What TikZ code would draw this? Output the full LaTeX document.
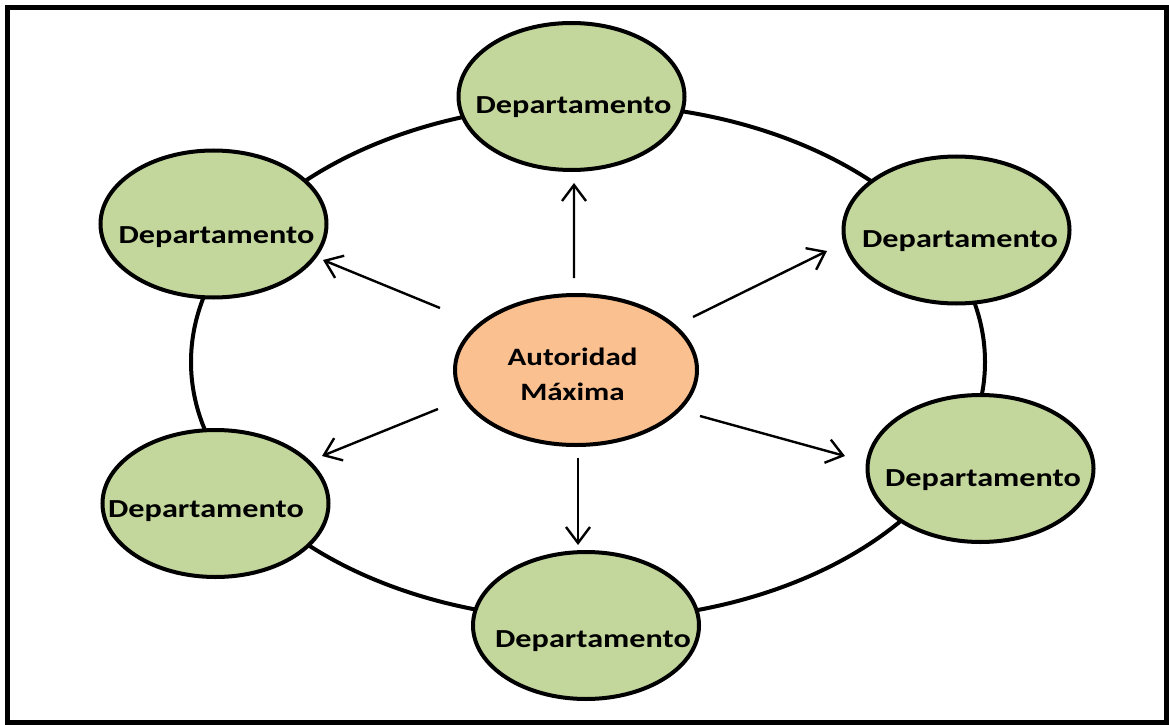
\documentclass[tikz,border=0pt]{standalone}
\usepackage{fontspec}
\setmainfont{Carlito}
\usetikzlibrary{shapes.geometric,arrows.meta}
\definecolor{deptgreen}{HTML}{C3D69B}
\definecolor{bossorange}{HTML}{FAC090}
\newfontfamily\labelfont[FakeStretch=1.24]{Carlito}
\tikzset{
  dept/.style={ellipse, draw=black, line width=4bp, fill=deptgreen,
    minimum width=226bp, minimum height=147bp, inner sep=0pt},
  boss/.style={ellipse, draw=black, line width=4bp, fill=bossorange,
    minimum width=242bp, minimum height=150bp, inner sep=0pt},
  dtext/.style={anchor=base, inner sep=0pt,
    font=\labelfont\bfseries\fontsize{26bp}{30bp}\selectfont},
  btext/.style={anchor=base, inner sep=0pt,
    font=\labelfont\bfseries\fontsize{25bp}{30bp}\selectfont},
  ring/.style={draw=black, line width=4bp},
  arr/.style={draw=black, line width=2.4bp,
    -{Straight Barb[length=16bp,width=24bp,line width=2.4bp]}},
  frame/.style={draw=black, line width=5bp}
}
\begin{document}
\begin{tikzpicture}[x=1bp,y=-1bp]
\useasboundingbox (0,0) rectangle (1169,725);
% outer frame
\draw[frame] (7.5,7.5) rectangle (1166,722);
% ring joining the departments
\draw[ring] (588,362) ellipse [x radius=397, y radius=258];

% departments
\node[dept] (top) at (571.5,96.5) {};
\node[dept] (ul)  at (213.5,224) {};
\node[dept] (ur)  at (956.5,230) {};
\node[dept] (ll)  at (215.5,503.5) {};
\node[dept] (lr)  at (980.5,468.5) {};
\node[dept] (bot) at (586,625.5) {};

\node[dtext] at ([shift={(2,17.5)}]top.center) {Departamento};
\node[dtext] at ([shift={(3,19)}]ul.center) {Departamento};
\node[dtext] at ([shift={(3.5,17)}]ur.center) {Departamento};
\node[dtext] at ([shift={(-9.5,13.5)}]ll.center) {Departamento};
\node[dtext] at ([shift={(2.5,17.5)}]lr.center) {Departamento};
\node[dtext] at ([shift={(7,21.5)}]bot.center) {Departamento};

% central authority
\node[boss] (c) at (576,370) {};
\node[btext] at ([shift={(-3.5,-5)}]c.center) {Autoridad};
\node[btext] at ([shift={(-3.5,30)}]c.center) {Máxima};

% arrows from the centre out to each department
\draw[arr] ([shift={(-2,-92)}]c.center) -- ([shift={(2.5,86.5)}]top.center);
\draw[arr] ([shift={(2,88)}]c.center) -- ([shift={(-8,-80.5)}]bot.center);
\draw[arr] ([shift={(-136,-62)}]c.center) -- ([shift={(109.5,36)}]ul.center);
\draw[arr] ([shift={(-138,39)}]c.center) -- ([shift={(106.5,-47.5)}]ll.center);
\draw[arr] ([shift={(117,-53)}]c.center) -- ([shift={(-129.5,21)}]ur.center);
\draw[arr] ([shift={(124,46)}]c.center) -- ([shift={(-135.5,-12.5)}]lr.center);
\end{tikzpicture}
\end{document}
